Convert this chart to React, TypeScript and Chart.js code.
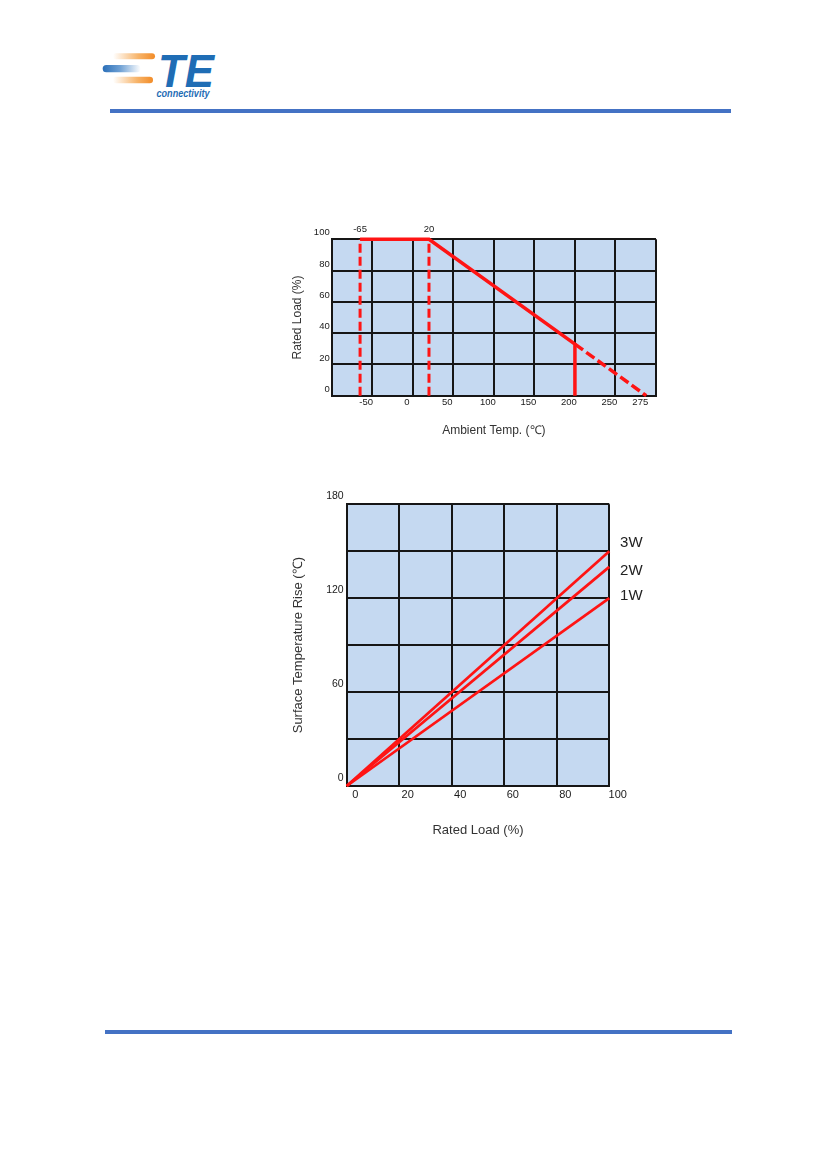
import React, { useRef, useEffect } from "react"
import { Chart, registerables, ChartConfiguration } from "chart.js"

Chart.register(...registerables)

// derating curve: ambient temp vs rated load
const deratingTemps = [-65, 20, 200, 200]
const deratingLoads = [100, 100, 33, 0]
const lowLimitTemps = [-65, -65]
const lowLimitLoads = [0, 100]
const kneeTemps = [20, 20]
const kneeLoads = [0, 100]
const extTemps = [200, 288]
const extLoads = [33, 0]
const tempTicks = [-100, -50, 0, 50, 100, 150, 200, 250, 288, 300]
const tempTickLabels = ["", "-50", "0", "50", "100", "150", "200", "250", "275", ""]
const topTempTicks = [-65, 20]
const loadTicks = [0, 20, 40, 60, 80, 100]

// surface temperature rise vs rated load
const ratedLoads = [0, 100]
const rise3W = [0, 150]
const rise2W = [0, 140]
const rise1W = [0, 120]
const powerLabels = ["3W", "2W", "1W"]
const riseLabelTicks = [0, 60, 120, 180]

const FONT = "'Liberation Sans', Arial, sans-serif"
const RED = "#ff1414"
const GRID = "#161616"
const PLOT_BG = "#c5d9f1"

const pts = (xs: number[], ys: number[]) => xs.map((x, i) => ({ x, y: ys[i] }))

const plotBg = {
  id: "plotBg",
  beforeDraw(chart: any) {
    const { ctx, chartArea: a } = chart
    ctx.save()
    ctx.fillStyle = PLOT_BG
    ctx.fillRect(a.left, a.top, a.right - a.left, a.bottom - a.top)
    ctx.restore()
  },
}

const endLabels = {
  id: "endLabels",
  afterDatasetsDraw(chart: any) {
    const { ctx } = chart
    ctx.save()
    ctx.font = `15px ${FONT}`
    ctx.fillStyle = "#222"
    ctx.textAlign = "center"
    ctx.textBaseline = "middle"
    chart.data.datasets.forEach((ds: any, i: number) => {
      const meta = chart.getDatasetMeta(i)
      const last = meta.data[meta.data.length - 1]
      if (!last) return
      ctx.fillText(ds.label, last.x + 22, last.y + (ds.labelNudge || 0))
    })
    ctx.restore()
  },
}

const setTicks = (values: number[]) => (scale: any) => {
  scale.ticks = values.map((v) => ({ value: v }))
}

const deratingConfig = (): ChartConfiguration => ({
  type: "scatter",
  data: {
    datasets: [
      { data: pts(deratingTemps, deratingLoads), borderWidth: 3.5 },
      { data: pts(lowLimitTemps, lowLimitLoads), borderWidth: 3, borderDash: [9, 4] },
      { data: pts(kneeTemps, kneeLoads), borderWidth: 3, borderDash: [9, 4] },
      { data: pts(extTemps, extLoads), borderWidth: 3.5, borderDash: [10, 4] },
    ].map((d) => ({
      ...d,
      showLine: true,
      borderColor: RED,
      pointRadius: 0,
      clip: false as any,
    })),
  },
  options: {
    animation: false,
    responsive: false,
    layout: { padding: { top: 0, right: 24, bottom: 0, left: 0 } },
    plugins: { legend: { display: false }, tooltip: { enabled: false } },
    scales: {
      x: {
        type: "linear",
        min: -100,
        max: 300,
        afterBuildTicks: setTicks(tempTicks),
        afterFit: (s: any) => {
          s.height = 49.3
        },
        grid: {
          color: (c: any) => (c.tick && c.tick.value === 288 ? "rgba(0,0,0,0)" : GRID),
          lineWidth: 2,
          drawTicks: false,
        },
        border: { color: GRID, width: 2 },
        ticks: {
          autoSkip: false,
          maxRotation: 0,
          minRotation: 0,
          padding: 1,
          labelOffset: -6,
          color: "#1a1a1a",
          font: { family: FONT, size: 9.5 },
          callback: (v: any) => tempTickLabels[tempTicks.indexOf(Number(v))] ?? "",
        },
        title: {
          display: true,
          text: "Ambient Temp. (℃)",
          color: "#333",
          font: { family: FONT, size: 12 },
          padding: { top: 0, bottom: 7 },
        },
      },
      xTop: {
        type: "linear",
        position: "top",
        min: -100,
        max: 300,
        afterBuildTicks: setTicks(topTempTicks),
        afterFit: (s: any) => {
          s.height = 24.3
        },
        grid: { display: false, drawTicks: false },
        border: { display: false },
        ticks: {
          autoSkip: false,
          maxRotation: 0,
          minRotation: 0,
          padding: 4,
          color: "#1a1a1a",
          font: { family: FONT, size: 9.5 },
          callback: (v: any) => String(v),
        },
      },
      y: {
        type: "linear",
        min: 0,
        max: 100,
        afterBuildTicks: setTicks(loadTicks),
        afterFit: (s: any) => {
          s.width = 51.7
        },
        grid: { color: GRID, lineWidth: 2, drawTicks: false },
        border: { color: GRID, width: 2 },
        ticks: {
          padding: 2,
          labelOffset: -6.5,
          color: "#1a1a1a",
          font: { family: FONT, size: 9.5 },
        },
        title: {
          display: true,
          text: "Rated Load (%)",
          color: "#333",
          font: { family: FONT, size: 12 },
          padding: { top: 10, bottom: 0 },
        },
      },
    },
  },
  plugins: [plotBg],
})

const riseConfig = (): ChartConfiguration => ({
  type: "scatter",
  data: {
    datasets: [
      { label: powerLabels[0], data: pts(ratedLoads, rise3W), labelNudge: -8 },
      { label: powerLabels[1], data: pts(ratedLoads, rise2W), labelNudge: 4 },
      { label: powerLabels[2], data: pts(ratedLoads, rise1W), labelNudge: -2 },
    ].map((d) => ({
      ...d,
      showLine: true,
      borderColor: RED,
      borderWidth: 2.7,
      pointRadius: 0,
      clip: false as any,
    })) as any,
  },
  options: {
    animation: false,
    responsive: false,
    layout: { padding: { top: 24.3, right: 60.7, bottom: 0, left: 0 } },
    plugins: { legend: { display: false }, tooltip: { enabled: false } },
    scales: {
      x: {
        type: "linear",
        min: 0,
        max: 100,
        ticks: {
          stepSize: 20,
          autoSkip: false,
          maxRotation: 0,
          minRotation: 0,
          padding: 2,
          labelOffset: 8.5,
          color: "#1a1a1a",
          font: { family: FONT, size: 11 },
        },
        afterFit: (s: any) => {
          s.height = 64
        },
        grid: { color: GRID, lineWidth: 2, drawTicks: false },
        border: { color: GRID, width: 2 },
        title: {
          display: true,
          text: "Rated Load (%)",
          color: "#333",
          font: { family: FONT, size: 13 },
          padding: { top: 0, bottom: 11.5 },
        },
      },
      y: {
        type: "linear",
        min: 0,
        max: 180,
        ticks: {
          stepSize: 30,
          autoSkip: false,
          padding: 3,
          labelOffset: -8,
          color: "#1a1a1a",
          font: { family: FONT, size: 10.5 },
          callback: (v: any) => (riseLabelTicks.includes(Number(v)) ? String(v) : ""),
        },
        afterFit: (s: any) => {
          s.width = 66.7
        },
        grid: { color: GRID, lineWidth: 2, drawTicks: false },
        border: { color: GRID, width: 2 },
        title: {
          display: true,
          text: "Surface Temperature Rise (℃)",
          color: "#333",
          font: { family: FONT, size: 13 },
          padding: { top: 10.5, bottom: 0 },
        },
      },
    },
  },
  plugins: [plotBg, endLabels],
})

interface ChartBoxProps {
  config: () => ChartConfiguration
  left: number
  top: number
  width: number
  height: number
}

const ChartBox: React.FC<ChartBoxProps> = ({ config, left, top, width, height }) => {
  const canvasRef = useRef<HTMLCanvasElement>(null)

  useEffect(() => {
    if (!canvasRef.current) return
    const chart = new Chart(canvasRef.current, config())
    return () => chart.destroy()
  }, [config])

  return (
    <div style={{ position: "absolute", left, top, width, height }}>
      <canvas ref={canvasRef} width={width} height={height} style={{ width, height }} />
    </div>
  )
}

const Logo = () => (
  <svg width={250} height={120} style={{ position: "absolute", left: 0, top: 0 }}>
    <defs>
      <linearGradient id="orangeFade" x1="0" x2="1" y1="0" y2="0">
        <stop offset="0" stopColor="#ffffff" />
        <stop offset="0.6" stopColor="#f7b46a" />
        <stop offset="1" stopColor="#f28c28" />
      </linearGradient>
      <linearGradient id="blueFade" x1="0" x2="1" y1="0" y2="0">
        <stop offset="0" stopColor="#2a6fb8" />
        <stop offset="0.45" stopColor="#6d9fd3" />
        <stop offset="1" stopColor="#ffffff" />
      </linearGradient>
    </defs>
    <rect x={113} y={53.3} width={42} height={6} rx={3} fill="url(#orangeFade)" />
    <rect x={102.7} y={65} width={38} height={7.3} rx={3.6} fill="url(#blueFade)" />
    <rect x={113} y={76.7} width={40} height={6.6} rx={3.3} fill="url(#orangeFade)" />
    <text
      x={158}
      y={86.5}
      fontFamily={FONT}
      fontWeight="bold"
      fontStyle="italic"
      fontSize={47}
      fill="#1f6db5"
      textLength={56}
      lengthAdjust="spacingAndGlyphs"
    >
      TE
    </text>
    <text
      x={156.5}
      y={96.5}
      fontFamily={FONT}
      fontWeight="bold"
      fontStyle="italic"
      fontSize={10.5}
      fill="#1f6db5"
      textLength={53}
      lengthAdjust="spacingAndGlyphs"
    >
      connectivity
    </text>
  </svg>
)

export default function App() {
  return (
    <div
      style={{
        position: "absolute",
        left: 0,
        top: 0,
        width: 827,
        height: 1169,
        background: "#fff",
        overflow: "hidden",
      }}
    >
      <Logo />
      <div style={{ position: "absolute", left: 110, top: 109, width: 621, height: 4, background: "#4472c4" }} />
      <ChartBox config={deratingConfig} left={280} top={215} width={400} height={230} />
      <ChartBox config={riseConfig} left={280} top={480} width={390} height={370} />
      <div style={{ position: "absolute", left: 105, top: 1030, width: 627, height: 4, background: "#4472c4" }} />
    </div>
  )
}
